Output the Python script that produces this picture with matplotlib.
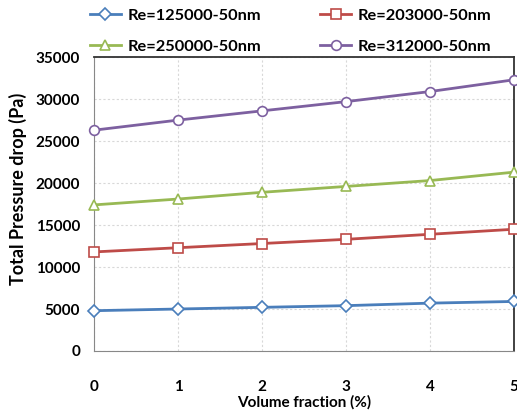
import matplotlib
matplotlib.use("Agg")
import matplotlib.pyplot as plt

x = [0, 1, 2, 3, 4, 5]
labels = ["Re=125000-50nm", "Re=203000-50nm", "Re=250000-50nm", "Re=312000-50nm"]
re125 = [4800, 5000, 5200, 5400, 5700, 5900]
re203 = [11800, 12300, 12800, 13300, 13900, 14500]
re250 = [17400, 18100, 18900, 19600, 20300, 21300]
re312 = [26300, 27500, 28600, 29700, 30900, 32300]
yticks = [0, 5000, 10000, 15000, 20000, 25000, 30000, 35000]

plt.rcParams['font.family'] = ['Lato', 'DejaVu Sans']
fig = plt.figure(figsize=(5.17, 4.11), dpi=100)
ax = fig.add_axes([0.182, 0.146, 0.812, 0.715])

series = [re125, re203, re250, re312]
colors = ["#4A7EBB", "#BE4B48", "#98B954", "#7D60A0"]
markers = ["D", "s", "^", "o"]
msizes = [6, 7, 7, 7]
handles = []
for s, c, m, ms, lab in zip(series, colors, markers, msizes, labels):
    h, = ax.plot(x, s, color=c, lw=2, marker=m, ms=ms, mfc="white", mec=c, mew=1.2,
                 label=lab, clip_on=False, zorder=3)
    handles.append(h)

ax.set_xlim(0, 5)
ax.set_ylim(0, 35000)
ax.set_yticks(yticks)
ax.set_xticks(x)
ax.grid(True, color="#d8d8d8", linestyle=(0, (2, 2)), lw=0.8)
for sp in ["left", "bottom"]:
    ax.spines[sp].set_color("#888888")
for sp in ["top", "right"]:
    ax.spines[sp].set_color("#333333")
    ax.spines[sp].set_linewidth(1.3)
ax.tick_params(length=0)
ax.tick_params(axis='x', pad=21)
ax.tick_params(axis='y', pad=10)
for t in ax.get_xticklabels() + ax.get_yticklabels():
    t.set_fontweight("bold")
    t.set_fontsize(11)
ax.set_xlabel("Volume fraction (%)", fontweight="bold", fontsize=11, labelpad=1)
ax.set_ylabel("Total Pressure drop (Pa)", fontweight="bold", fontsize=13)
ax.yaxis.set_label_coords(-0.16, 0.55)

order = [0, 2, 1, 3]
leg = fig.legend([handles[i] for i in order], [labels[i] for i in order],
                 loc="upper left", bbox_to_anchor=(0.145, 1.015), ncol=2, frameon=False,
                 prop={"weight": "bold", "size": 11.8}, handlelength=1.9, columnspacing=3.6,
                 labelspacing=1.0, handletextpad=0.4)

fig.savefig("out.png", dpi=100)
